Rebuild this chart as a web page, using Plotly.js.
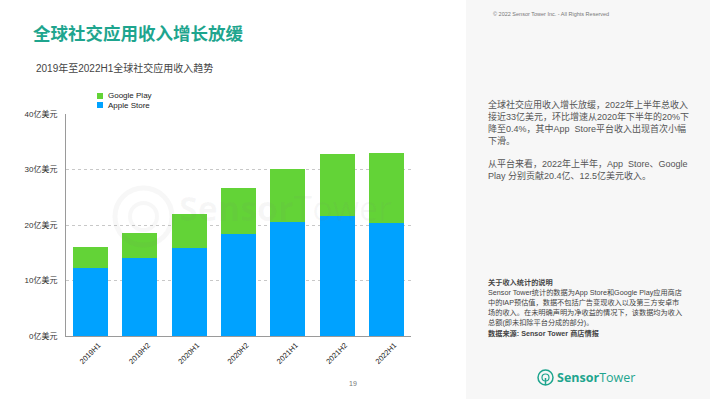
<!DOCTYPE html>
<html>
<head>
<meta charset="utf-8">
<script src="https://cdn.plot.ly/plotly-3.0.1.min.js"></script>
<style>
html,body{margin:0;padding:0;background:#fff;}
#chart{width:710px;height:399px;}
</style>
</head>
<body>
<div id="chart"></div>
<script>
// ---- data ----
const periods = ["2019H1","2019H2","2020H1","2020H2","2021H1","2021H2","2022H1"];
const appleStore = [12.2, 14.0, 15.8, 18.4, 20.6, 21.7, 20.4];
const googlePlay = [3.9, 4.6, 6.2, 8.2, 9.5, 11.1, 12.5];
const seriesNames = ["Apple Store", "Google Play"];
const yTicks = [0, 10, 20, 30, 40];
const yTickSuffix = "亿美元";

const titleText = "全球社交应用收入增长放缓";
const subtitleText = "2019年至2022H1全球社交应用收入趋势";
const copyrightText = "© 2022 Sensor Tower Inc. - All Rights Reserved";
const para1 = ["全球社交应用收入增长放缓，2022年上半年总收入",
               "接近33亿美元，环比增速从2020年下半年的20%下",
               "降至0.4%，其中App  Store平台收入出现首次小幅",
               "下滑。"];
const para2 = ["从平台来看，2022年上半年，App  Store、Google",
               "Play 分别贡献20.4亿、12.5亿美元收入。"];
const noteLines = ["<b>关于收入统计的说明</b>",
                   "Sensor Tower统计的数据为App Store和Google Play应用商店",
                   "中的IAP预估值，数据不包括广告变现收入以及第三方安卓市",
                   "场的收入。在未明确声明为净收益的情况下，该数据均为收入",
                   "总额(即未扣除平台分成的部分)。",
                   "<b>数据来源: Sensor Tower 商店情报</b>"];
const pageNumber = "19";

// ---- layout helpers ----
const L = 66, W = 345, T = 114, H = 222;
const FONT = "Liberation Sans, Arial, 'Noto Sans CJK SC', sans-serif";
const CJK = "'Liberation Sans', 'Noto Sans CJK SC', sans-serif";
const px = x => (x - L) / W;
const py = y => (T + H - y) / H;
const TEAL = "#1ea58e";
const BLUE = "#00a2ff";
const GREEN = "#63d337";
const WM = "rgba(120,120,120,0.06)";

function txt(x, y, text, size, color, opts) {
  return Object.assign({
    xref: "paper", yref: "paper", x: px(x), y: py(y),
    xanchor: "left", yanchor: "middle", showarrow: false, borderpad: 0,
    text: text, font: {family: CJK, size: size, color: color}
  }, opts || {});
}

const annotations = [];
annotations.push(txt(32, 33, "<b>" + titleText + "</b>", 17.5, TEAL, {font:{family:"'Noto Sans CJK SC', sans-serif", size:17.5, color:TEAL}}));
annotations.push(txt(35, 68, subtitleText, 10, "#444"));
annotations.push(txt(492, 14, copyrightText, 5.5, "#777", {font:{family:FONT,size:5.5,color:"#777"}}));
para1.forEach((s, i) => annotations.push(txt(487, 104 + i * 12.4, s, 9, "#555")));
para2.forEach((s, i) => annotations.push(txt(487, 163 + i * 12.4, s, 9, "#555")));
noteLines.forEach((s, i) => annotations.push(txt(487, 282 + i * 10.2, s, 7.2, "#444")));
annotations.push(txt(348, 383, pageNumber, 7, "#777", {font:{family:FONT,size:7,color:"#777"}}));
// logo
annotations.push(txt(556, 377, "<b>Sensor</b>Tower", 12.5, TEAL, {font:{family:"'Open Sans', sans-serif", size:12.5, color:TEAL}}));
// watermark
annotations.push(txt(178, 208, "<b>Sensor</b>Tower", 34, WM, {font:{family:"'Open Sans', sans-serif", size:34, color:WM}}));
// legend (manual, compact)
annotations.push(txt(107, 96, seriesNames[1], 8, "#222", {font:{family:FONT,size:8,color:"#222"}}));
annotations.push(txt(107, 105, seriesNames[0], 8, "#222", {font:{family:FONT,size:8,color:"#222"}}));

const shapes = [
  {type:"rect", xref:"paper", yref:"paper", x0:px(466), x1:px(712), y0:py(-2), y1:py(401),
   fillcolor:"#f7f7f7", line:{width:0}, layer:"below"},
  // legend swatches
  {type:"rect", xref:"paper", yref:"paper", x0:px(97), x1:px(103), y0:py(99), y1:py(93),
   fillcolor:GREEN, line:{width:0}},
  {type:"rect", xref:"paper", yref:"paper", x0:px(97), x1:px(103), y0:py(108), y1:py(102),
   fillcolor:BLUE, line:{width:0}},
  // logo icon
  {type:"circle", xref:"paper", yref:"paper", x0:px(538), x1:px(553), y0:py(385), y1:py(370),
   line:{color:TEAL, width:1.5}},
  {type:"circle", xref:"paper", yref:"paper", x0:px(542), x1:px(549), y0:py(381), y1:py(374),
   line:{color:TEAL, width:1.2}},
  {type:"line", xref:"paper", yref:"paper", x0:px(545.5), x1:px(545.5), y0:py(378), y1:py(385),
   line:{color:TEAL, width:1.5}},
  // watermark icon
  {type:"circle", xref:"paper", yref:"paper", x0:px(115), x1:px(172), y0:py(245), y1:py(188),
   line:{color:WM, width:5}},
  {type:"circle", xref:"paper", yref:"paper", x0:px(130), x1:px(157), y0:py(230), y1:py(203),
   line:{color:WM, width:4}}
];

const data = [
  {type:"bar", name:seriesNames[0], x:periods, y:appleStore, marker:{color:BLUE}, hoverinfo:"skip"},
  {type:"bar", name:seriesNames[1], x:periods, y:googlePlay, marker:{color:GREEN}, hoverinfo:"skip"}
];

const layout = {
  width:710, height:399,
  margin:{l:L, r:710 - L - W, t:T, b:399 - T - H, pad:0},
  paper_bgcolor:"#ffffff", plot_bgcolor:"#ffffff",
  barmode:"stack", bargap:0.29,
  showlegend:false,
  font:{family:FONT, size:8, color:"#333"},
  xaxis:{
    type:"category", tickangle:-45, tickfont:{family:FONT, size:7.5, color:"#222"},
    ticklabelshift:8, ticklabelstandoff:1,
    showline:true, linecolor:"#9a9a9a", linewidth:1, ticks:"", showgrid:false,
    fixedrange:true
  },
  yaxis:{
    range:[0, 40], tickmode:"array", tickvals:yTicks,
    ticktext:yTicks.map(v => v + yTickSuffix),
    tickfont:{family:CJK, size:8, color:"#333"},
    showline:true, linecolor:"#9a9a9a", linewidth:1, ticks:"", ticklabelstandoff:6,
    showgrid:true, gridcolor:"#c8c8c8", griddash:"dot", gridwidth:1, zeroline:false,
    fixedrange:true
  },
  annotations:annotations,
  shapes:shapes
};

Plotly.newPlot("chart", data, layout, {displayModeBar:false, staticPlot:true});
</script>
</body>
</html>
